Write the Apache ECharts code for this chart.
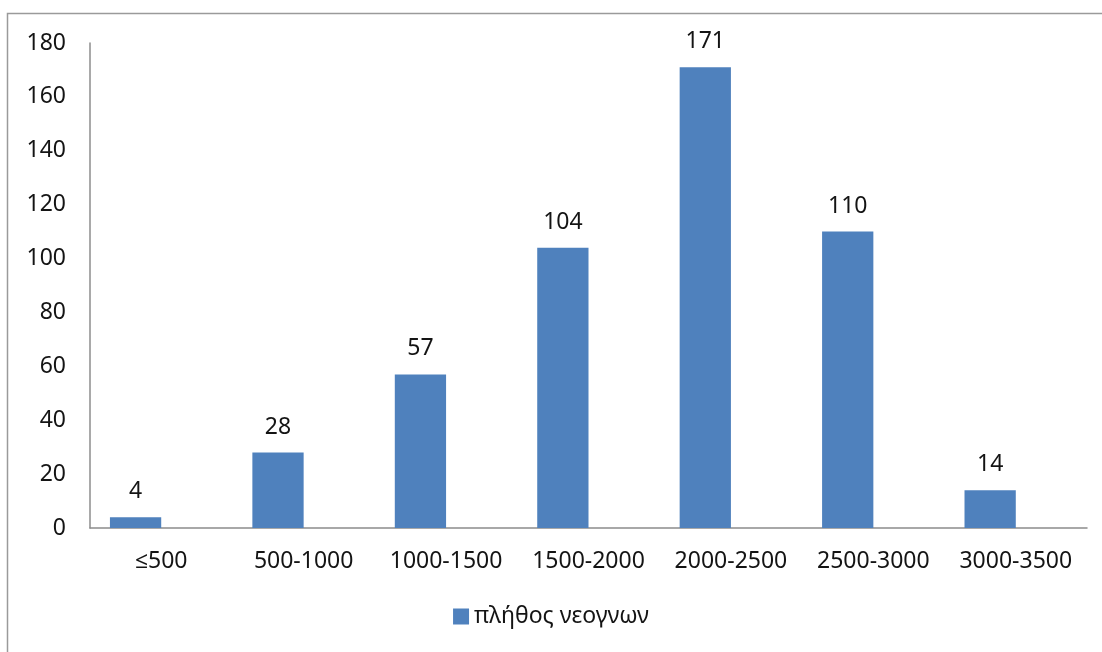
<!DOCTYPE html>
<html>
<head>
<meta charset="utf-8">
<script src="https://cdn.jsdelivr.net/npm/echarts@6/dist/echarts.min.js"></script>
<style>
  html, body { margin: 0; padding: 0; background: #fff; }
  #chart { width: 1102px; height: 652px; }
</style>
</head>
<body>
<div id="chart"></div>
<script>
// Birth-weight classes (grams) and number of newborns in each
const categories = ['≤500', '500-1000', '1000-1500', '1500-2000', '2000-2500', '2500-3000', '3000-3500'];
const counts = [4, 28, 57, 104, 171, 110, 14];
const seriesName = 'πλήθος νεογνων';
const yMin = 0, yMax = 180, yStep = 20;

const font = '"Noto Sans", "Open Sans", sans-serif';
const textColor = '#141414';
const fontSize = 23;

const chart = echarts.init(document.getElementById('chart'), null, { renderer: 'canvas' });
chart.setOption({
  backgroundColor: '#ffffff',
  animation: false,
  textStyle: { fontFamily: font },
  graphic: [{
    type: 'rect',
    shape: { x: 7.5, y: 13.5, width: 1100, height: 660 },
    style: { fill: 'none', stroke: '#9a9a9a', lineWidth: 1.5 },
    silent: true
  }],
  grid: { left: 90, right: 15, top: 43, bottom: 124, containLabel: false },
  legend: {
    data: [seriesName],
    bottom: 19,
    left: 'center',
    itemWidth: 16,
    itemHeight: 16,
    itemGap: 6,
    icon: 'rect',
    textStyle: { fontFamily: font, fontSize: fontSize, color: textColor }
  },
  xAxis: {
    type: 'category',
    data: categories,
    axisLine: { lineStyle: { color: '#8c8c8c', width: 1.5 } },
    axisTick: { show: false },
    axisLabel: { fontFamily: font, fontSize: fontSize, color: textColor, margin: 22, interval: 0 }
  },
  yAxis: {
    type: 'value',
    min: yMin, max: yMax, interval: yStep,
    axisLine: { show: true, lineStyle: { color: '#8c8c8c', width: 1.5 } },
    axisTick: { show: false },
    splitLine: { show: false },
    axisLabel: { fontFamily: font, fontSize: fontSize, color: textColor, margin: 24 }
  },
  series: [
    {
      name: seriesName,
      type: 'bar',
      data: counts,
      barGap: '0%',
      barCategoryGap: '28%',
      itemStyle: { color: '#4f81bd' },
      label: {
        show: true,
        position: 'top',
        distance: 14,
        fontFamily: font,
        fontSize: fontSize,
        color: textColor
      }
    },
    {
      // empty companion series keeps each bar in the left half of its class
      name: 'spacer',
      type: 'bar',
      data: categories.map(() => null),
      barGap: '0%',
      barCategoryGap: '28%',
      silent: true
    }
  ]
});
</script>
</body>
</html>
